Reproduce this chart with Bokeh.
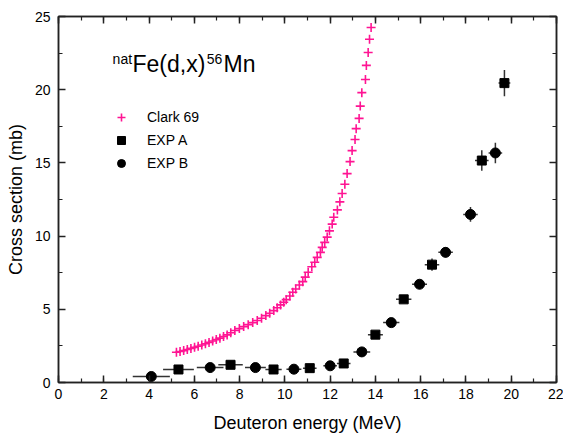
from bokeh.plotting import figure
from bokeh.models import (Range1d, SingleIntervalTicker, LinearAxis, Label,
                          Legend, LegendItem, ColumnDataSource)
from bokeh.embed import file_html
from bokeh.resources import INLINE

# Clark 69 excitation function
clark_e = [5.21, 5.37, 5.53, 5.69, 5.85, 6.01, 6.17, 6.33, 6.49, 6.65, 6.81,
           6.97, 7.13, 7.29, 7.45, 7.61, 7.79, 7.99, 8.18, 8.38, 8.58, 8.78,
           8.97, 9.16, 9.33, 9.51, 9.66, 9.81, 9.95, 10.06, 10.22, 10.35,
           10.48, 10.64, 10.79, 10.90, 11.03, 11.19, 11.32, 11.43, 11.57,
           11.65, 11.76, 11.87, 11.97, 12.09, 12.16, 12.32, 12.43, 12.53,
           12.65, 12.75, 12.88, 12.97, 13.10, 13.15, 13.28, 13.33, 13.40,
           13.56, 13.60, 13.68, 13.74, 13.81]
clark_xs = [2.07, 2.12, 2.18, 2.25, 2.33, 2.40, 2.48, 2.56, 2.65, 2.74, 2.83,
            2.93, 3.03, 3.14, 3.25, 3.40, 3.55, 3.68, 3.82, 3.95, 4.09, 4.23,
            4.39, 4.57, 4.73, 4.91, 5.11, 5.30, 5.48, 5.66, 5.91, 6.16,
            6.39, 6.66, 6.89, 7.20, 7.53, 7.91, 8.21, 8.55, 8.89,
            9.23, 9.57, 9.93, 10.36, 10.82, 11.29, 11.79, 12.34, 12.91,
            13.54, 14.27, 15.09, 15.84, 16.60, 17.34, 18.04, 18.88, 19.80,
            20.70, 21.66, 22.54, 23.45, 24.25]

# EXP A (squares)
a_e = [5.30, 7.60, 9.50, 11.10, 12.60, 14.00, 15.25, 16.50, 18.70, 19.70]
a_xs = [0.89, 1.21, 0.89, 0.98, 1.30, 3.27, 5.68, 8.05, 15.16, 20.45]
a_de = [0.68, 0.54, 0.36, 0.30, 0.30, 0.33, 0.34, 0.32, 0.30, 0.26]
a_dxs = [0.05, 0.05, 0.05, 0.05, 0.08, 0.12, 0.15, 0.42, 0.70, 0.90]

# EXP B (circles)
b_e = [4.10, 6.70, 8.70, 10.40, 12.00, 13.40, 14.70, 15.95, 17.10, 18.20, 19.30]
b_xs = [0.41, 1.02, 1.02, 0.91, 1.14, 2.09, 4.09, 6.71, 8.89, 11.48, 15.68]
b_de = [0.82, 0.59, 0.46, 0.33, 0.30, 0.37, 0.36, 0.33, 0.32, 0.32, 0.30]
b_dxs = [0.05, 0.05, 0.05, 0.05, 0.06, 0.10, 0.15, 0.20, 0.35, 0.50, 0.70]

x_ticks_interval = 2
y_ticks_interval = 5

FONT = "Liberation Sans"
AXIS_COLOR = "#222222"
PINK = "#ff1493"
ERR_COLOR = "#333333"

p = figure(width=563, height=435, output_backend="svg", toolbar_location=None,
           x_range=Range1d(0, 22), y_range=Range1d(0, 25),
           min_border_left=58, min_border_right=7, min_border_top=16,
           min_border_bottom=53, x_axis_location=None, y_axis_location=None)
p.grid.visible = False
p.outline_line_color = AXIS_COLOR
p.outline_line_width = 1.5
p.background_fill_color = "white"
p.border_fill_color = "white"


def style_axis(ax, labels=True):
    ax.axis_line_color = AXIS_COLOR
    ax.axis_line_width = 1.5
    ax.major_tick_line_color = AXIS_COLOR
    ax.minor_tick_line_color = AXIS_COLOR
    ax.major_tick_line_width = 1.5
    ax.minor_tick_line_width = 1.2
    ax.major_tick_in = 7
    ax.major_tick_out = 0
    ax.minor_tick_in = 4
    ax.minor_tick_out = 0
    ax.major_label_text_font = FONT
    ax.major_label_text_font_size = "14px"
    ax.major_label_text_color = "black" if labels else None
    ax.axis_label_text_font = FONT
    ax.axis_label_text_font_size = "18px"
    ax.axis_label_text_font_style = "normal"
    ax.axis_label_text_color = "black"


xb = LinearAxis(ticker=SingleIntervalTicker(interval=x_ticks_interval, num_minor_ticks=2),
                axis_label="Deuteron energy (MeV)")
style_axis(xb)
xb.major_label_standoff = 6
xb.axis_label_standoff = 11
p.add_layout(xb, "below")

yl = LinearAxis(ticker=SingleIntervalTicker(interval=y_ticks_interval, num_minor_ticks=2),
                axis_label="Cross section (mb)")
style_axis(yl)
yl.major_label_standoff = 8
yl.axis_label_standoff = 6
p.add_layout(yl, "left")

xt = LinearAxis(ticker=SingleIntervalTicker(interval=x_ticks_interval, num_minor_ticks=2))
style_axis(xt, labels=False)
p.add_layout(xt, "above")

yr = LinearAxis(ticker=SingleIntervalTicker(interval=y_ticks_interval, num_minor_ticks=2))
style_axis(yr, labels=False)
p.add_layout(yr, "right")

# error bars
for e, xs, de, dxs in ((a_e, a_xs, a_de, a_dxs), (b_e, b_xs, b_de, b_dxs)):
    src = ColumnDataSource(dict(
        e=e, xs=xs,
        e0=[v - d for v, d in zip(e, de)], e1=[v + d for v, d in zip(e, de)],
        s0=[v - d for v, d in zip(xs, dxs)], s1=[v + d for v, d in zip(xs, dxs)]))
    p.segment(x0="e0", x1="e1", y0="xs", y1="xs", source=src,
              line_color=ERR_COLOR, line_width=1.5)
    p.segment(x0="e", x1="e", y0="s0", y1="s1", source=src,
              line_color=ERR_COLOR, line_width=1.5)

r_clark = p.scatter(clark_e, clark_xs, marker="cross", size=9,
                    line_color=PINK, line_width=1.6)
r_a = p.scatter(a_e, a_xs, marker="square", size=9, fill_color="black",
                line_color="black")
r_b = p.scatter(b_e, b_xs, marker="circle", size=10, fill_color="black",
                line_color="black")

legend = Legend(items=[LegendItem(label="Clark 69", renderers=[r_clark]),
                       LegendItem(label="EXP A", renderers=[r_a]),
                       LegendItem(label="EXP B", renderers=[r_b])],
                location=(53, 209), border_line_color=None,
                background_fill_alpha=0, label_text_font=FONT,
                label_text_font_size="14px", label_text_color="black",
                label_standoff=16, glyph_width=20, glyph_height=20,
                spacing=3, padding=10, label_height=20)
p.add_layout(legend)

# reaction title with superscripts
title_parts = [("nat", 2.39, 22.1, "14px"),
               ("Fe(d,x)", 3.27, 21.77, "23px"),
               ("56", 6.55, 22.1, "14px"),
               ("Mn", 7.29, 21.77, "23px")]
for txt, x, y, size in title_parts:
    p.add_layout(Label(x=x, y=y, text=txt, text_font=FONT, text_font_size=size,
                       text_color="black", text_baseline="alphabetic"))

open("out.html", "w").write(file_html(p, INLINE))
